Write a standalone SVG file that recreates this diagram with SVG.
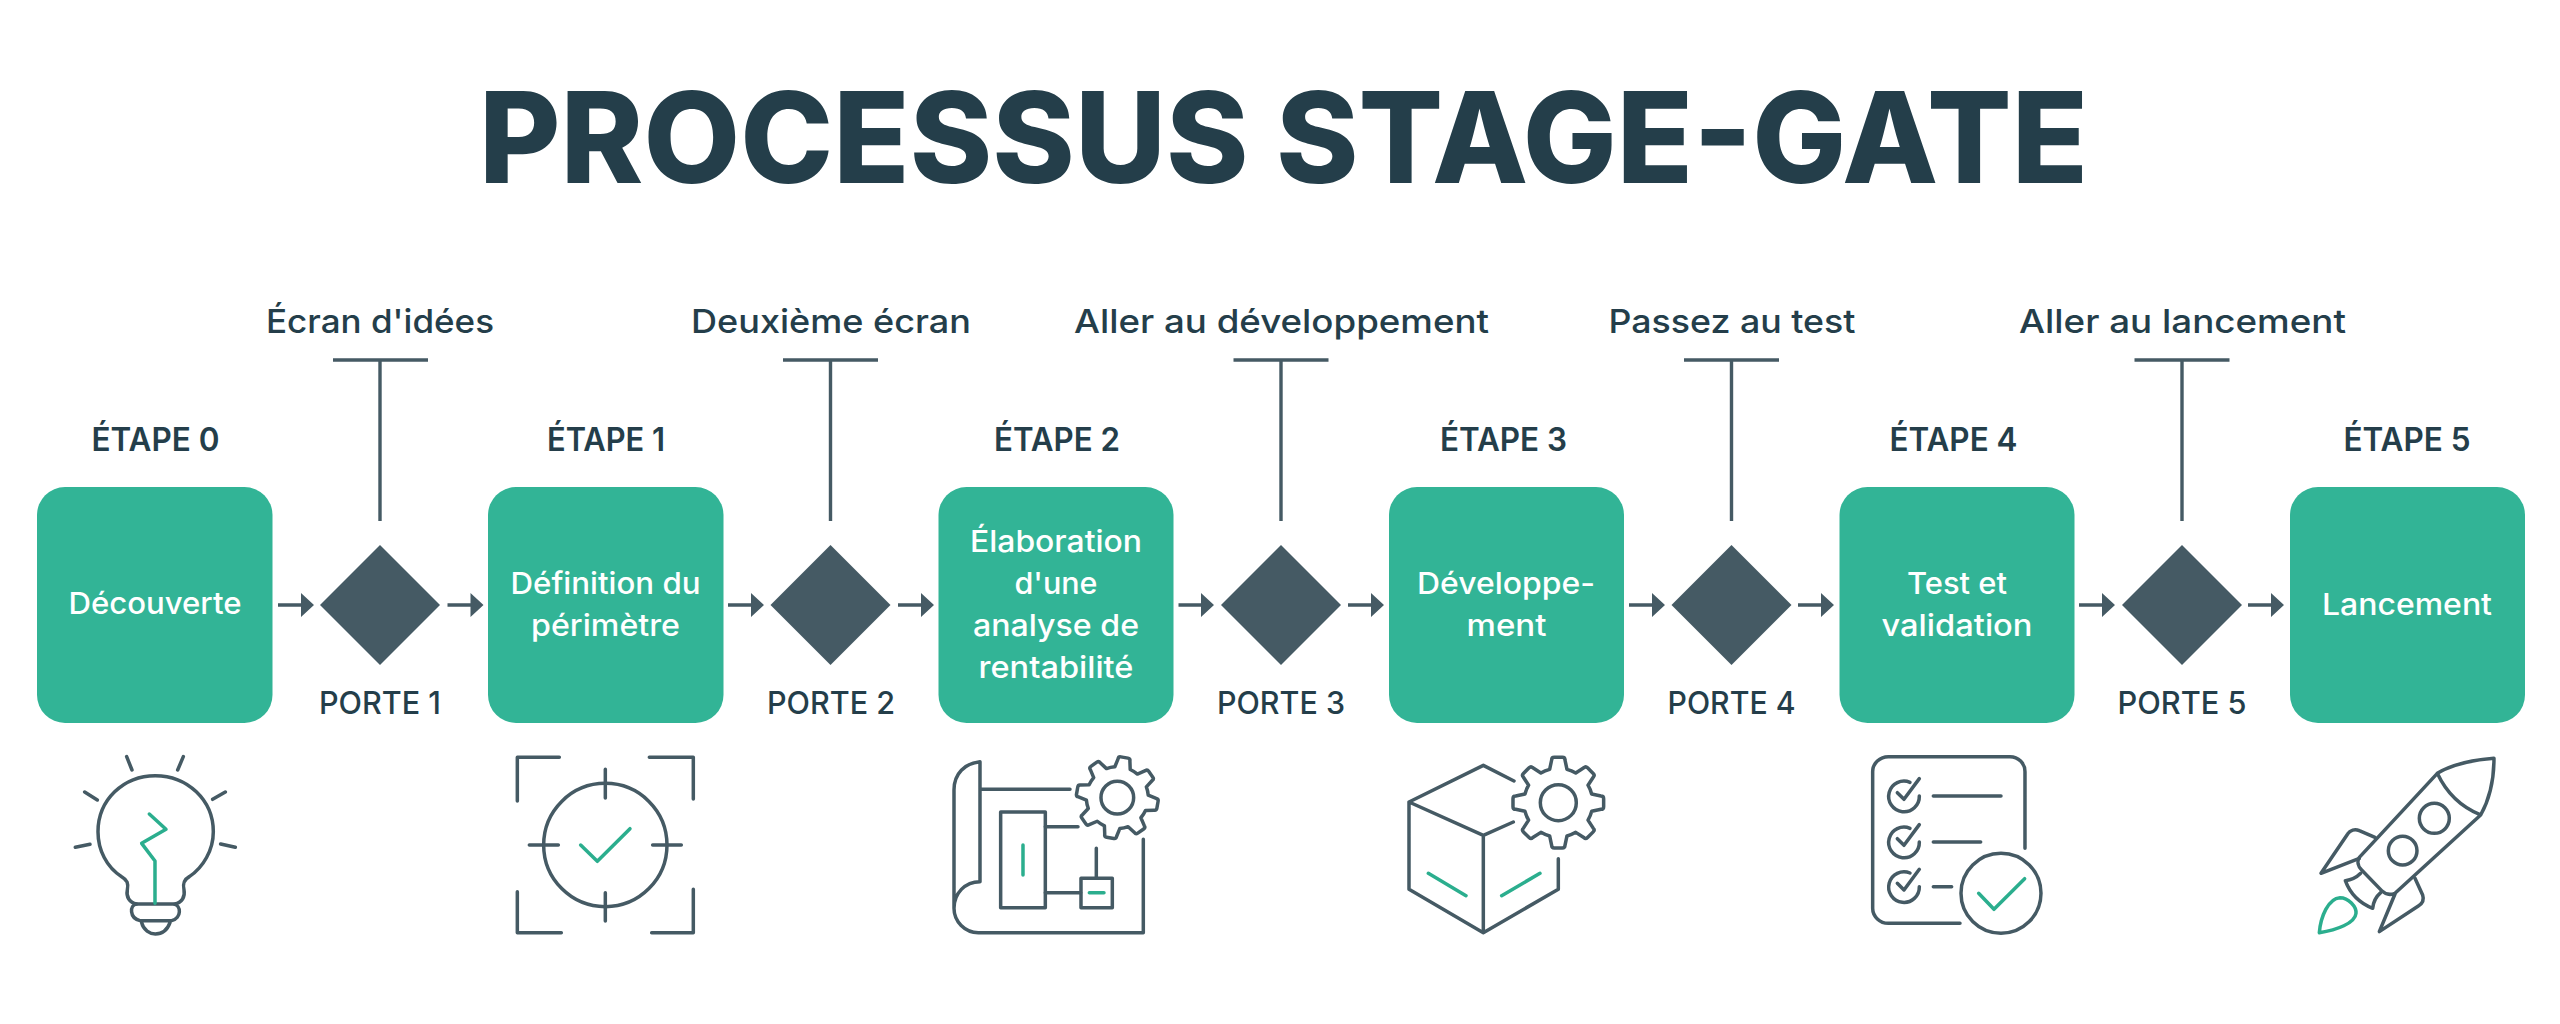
<svg xmlns="http://www.w3.org/2000/svg" xmlns:xlink="http://www.w3.org/1999/xlink" width="2560" height="1024" viewBox="0 0 2560 1024">
<style>
text{font-family:"Inter","Noto Sans","Liberation Sans",sans-serif;text-anchor:middle;fill:#243E4A}
.title{font-size:126px;font-weight:800}
.top{font-size:33px;font-weight:450}
.stage{font-size:32px;font-weight:600}
.gate{font-size:31px;font-weight:500}
.in{font-size:30px;font-weight:450;fill:#fff}
.box{fill:#32B496}
.dia{fill:#455A64}
.conn{stroke:#455A64;stroke-width:3.4;fill:none}
.head{fill:#455A64}
.ic{fill:none;stroke:#455A64;stroke-width:10.5;stroke-linecap:round;stroke-linejoin:round}
.gr{fill:none;stroke:#2BAE8E;stroke-width:10.5;stroke-linecap:round;stroke-linejoin:round}
</style>
<defs>
<path id="gear" d="M100,-26L128,-20Q136,-20 136,-12L136,12Q136,20 128,20L100,26A103,103 0 0 1 89.1,52.3L104.7,76.4Q110.3,82 104.7,87.7L87.7,104.7Q82,110.3 76.4,104.7L52.3,89.1A103,103 0 0 1 26,100L20,128Q20,136 12,136L-12,136Q-20,136 -20,128L-26,100A103,103 0 0 1 -52.3,89.1L-76.4,104.7Q-82,110.3 -87.7,104.7L-104.7,87.7Q-110.3,82 -104.7,76.4L-89.1,52.3A103,103 0 0 1 -100,26L-128,20Q-136,20 -136,12L-136,-12Q-136,-20 -128,-20L-100,-26A103,103 0 0 1 -89.1,-52.3L-104.7,-76.4Q-110.3,-82 -104.7,-87.7L-87.7,-104.7Q-82,-110.3 -76.4,-104.7L-52.3,-89.1A103,103 0 0 1 -26,-100L-20,-128Q-20,-136 -12,-136L12,-136Q20,-136 20,-128L26,-100A103,103 0 0 1 52.3,-89.1L76.4,-104.7Q82,-110.3 87.7,-104.7L104.7,-87.7Q110.3,-82 104.7,-76.4L89.1,-52.3A103,103 0 0 1 100,-26Z"/>
<g id="chk"><path d="M180,157A46,46 0 1 0 208,198"/><path d="M142,188L162,208L208,146"/></g>
</defs>
<rect width="2560" height="1024" fill="#fff"/>
<text class="title" x="1283.500" y="183" textLength="1609" lengthAdjust="spacingAndGlyphs">PROCESSUS STAGE-GATE</text>

<g id="connectors">
<path class="conn" d="M278,605H303M447.500,605H473M728,605H753M898,605H923M1178.500,605H1204M1348,605H1373M1629,605H1654M1798,605H1823M2079,605H2104M2248,605H2273"/>
<path class="head" d="M301,593L314,605L301,617ZM470.500,593L483.500,605L470.500,617ZM751,593L764,605L751,617ZM921,593L934,605L921,617ZM1201,593L1214,605L1201,617ZM1371,593L1384,605L1371,617ZM1652,593L1665,605L1652,617ZM1821,593L1834,605L1821,617ZM2102,593L2115,605L2102,617ZM2271,593L2284,605L2271,617Z"/>
<path class="conn" d="M333,360H428M380,360V521M783,360H878M830.500,360V521M1233.500,360H1328.500M1281,360V521M1684,360H1779M1731.500,360V521M2134.500,360H2229.500M2182,360V521"/>
</g>

<g id="stage0"><rect class="box" x="37" y="487" width="235.500" height="236" rx="28"/><text class="stage" x="155.500" y="451" textLength="128" lengthAdjust="spacingAndGlyphs">ÉTAPE 0</text><text class="in" x="155" y="614" textLength="173" lengthAdjust="spacingAndGlyphs">Découverte</text></g>
<g id="gate1"><path class="dia" d="M380,545L440,605L380,665L320,605Z"/><text class="top" x="380" y="333" textLength="228" lengthAdjust="spacingAndGlyphs">Écran d'idées</text><text class="gate" x="380" y="714" textLength="122" lengthAdjust="spacingAndGlyphs">PORTE 1</text></g>
<g id="stage1"><rect class="box" x="488" y="487" width="235.500" height="236" rx="28"/><text class="stage" x="606" y="451" textLength="118" lengthAdjust="spacingAndGlyphs">ÉTAPE 1</text><text class="in" x="605.500" y="594" textLength="190" lengthAdjust="spacingAndGlyphs">Définition du</text><text class="in" x="605.500" y="636" textLength="149" lengthAdjust="spacingAndGlyphs">périmètre</text></g>
<g id="gate2"><path class="dia" d="M830.500,545L890.500,605L830.500,665L770.500,605Z"/><text class="top" x="831" y="333" textLength="280" lengthAdjust="spacingAndGlyphs">Deuxième écran</text><text class="gate" x="831" y="714" textLength="128" lengthAdjust="spacingAndGlyphs">PORTE 2</text></g>
<g id="stage2"><rect class="box" x="938.500" y="487" width="235" height="236" rx="28"/><text class="stage" x="1057" y="451" textLength="126" lengthAdjust="spacingAndGlyphs">ÉTAPE 2</text><text class="in" x="1056" y="552" textLength="172" lengthAdjust="spacingAndGlyphs">Élaboration</text><text class="in" x="1056" y="594" textLength="83" lengthAdjust="spacingAndGlyphs">d'une</text><text class="in" x="1056" y="636" textLength="166" lengthAdjust="spacingAndGlyphs">analyse de</text><text class="in" x="1056" y="678" textLength="155" lengthAdjust="spacingAndGlyphs">rentabilité</text></g>
<g id="gate3"><path class="dia" d="M1281,545L1341,605L1281,665L1221,605Z"/><text class="top" x="1281.500" y="333" textLength="415" lengthAdjust="spacingAndGlyphs">Aller au développement</text><text class="gate" x="1281" y="714" textLength="128" lengthAdjust="spacingAndGlyphs">PORTE 3</text></g>
<g id="stage3"><rect class="box" x="1389" y="487" width="235" height="236" rx="28"/><text class="stage" x="1503.500" y="451" textLength="127" lengthAdjust="spacingAndGlyphs">ÉTAPE 3</text><text class="in" x="1506" y="594" textLength="178" lengthAdjust="spacingAndGlyphs">Développe-</text><text class="in" x="1506.500" y="636" textLength="80" lengthAdjust="spacingAndGlyphs">ment</text></g>
<g id="gate4"><path class="dia" d="M1731.500,545L1791.500,605L1731.500,665L1671.500,605Z"/><text class="top" x="1732" y="333" textLength="247" lengthAdjust="spacingAndGlyphs">Passez au test</text><text class="gate" x="1731.500" y="714" textLength="128" lengthAdjust="spacingAndGlyphs">PORTE 4</text></g>
<g id="stage4"><rect class="box" x="1839.500" y="487" width="235" height="236" rx="28"/><text class="stage" x="1953.500" y="451" textLength="128" lengthAdjust="spacingAndGlyphs">ÉTAPE 4</text><text class="in" x="1957" y="594" textLength="100" lengthAdjust="spacingAndGlyphs">Test et</text><text class="in" x="1957" y="636" textLength="151" lengthAdjust="spacingAndGlyphs">validation</text></g>
<g id="gate5"><path class="dia" d="M2182,545L2242,605L2182,665L2122,605Z"/><text class="top" x="2182.500" y="333" textLength="327" lengthAdjust="spacingAndGlyphs">Aller au lancement</text><text class="gate" x="2182" y="714" textLength="129" lengthAdjust="spacingAndGlyphs">PORTE 5</text></g>
<g id="stage5"><rect class="box" x="2290" y="487" width="235" height="236" rx="28"/><text class="stage" x="2407" y="451" textLength="127" lengthAdjust="spacingAndGlyphs">ÉTAPE 5</text><text class="in" x="2407" y="615" textLength="170" lengthAdjust="spacingAndGlyphs">Lancement</text></g>

<g id="icon-bulb" transform="translate(40 730) scale(.3333)">
<path class="ic" d="M290,522C268,518 258,500 262,480C266,460 262,450 245,440C200,412 174,360 174,305C174,210 250,137 346,137C442,137 520,210 520,305C520,360 490,412 448,440C430,450 428,462 432,480C436,500 426,518 404,522"/>
<path class="ic" d="M290,522H400C425,525 425,565 395,572H300C268,565 268,525 290,522ZM305,578C310,600 330,612 346,612C365,612 382,600 390,578"/>
<path class="ic" d="M260,80L276,120M430,80L413,120M134,186L172,210M556,186L518,208M106,352L150,343M586,352L542,342"/>
<path class="gr" d="M328,252L378,298L305,340L345,393V520"/>
</g>
<g id="icon-target" transform="translate(490 730) scale(.3333)">
<path class="ic" d="M82,213V82H208M478,82H610V207M82,485V608H214M485,608H610V478"/>
<circle class="ic" cx="346" cy="345" r="185"/>
<path class="ic" d="M346,118V204M346,488V573M118,345H205M488,345H574"/>
<path class="gr" d="M272,345L322,394L420,296"/>
</g>
<g id="icon-blueprint" transform="translate(930 730) scale(.3333)">
<path class="ic" d="M150,95V455C105,455 72,490 72,535C72,575 105,608 145,608H640V328M150,95C105,100 72,130 72,180V535M150,178H420"/>
<rect class="ic" x="212" y="246" width="134" height="287"/>
<path class="ic" d="M346,290H444M346,488H452M499,355V445"/>
<rect class="ic" x="453" y="445" width="94" height="88"/>
<path class="gr" d="M279,345V435M478,488H522"/>
<use href="#gear" class="ic" transform="translate(562 203) rotate(10) scale(.9)" style="stroke-width:11.600"/>
<circle class="ic" cx="562" cy="203" r="49"/>
</g>
<g id="icon-box" transform="translate(1390 730) scale(.3333)">
<path class="ic" d="M372,153L280,106L57,216V478L280,608L505,478V386M57,216L280,316L370,276M280,316V608"/>
<path class="gr" d="M115,430L228,497M335,497L450,430"/>
<use href="#gear" class="ic" transform="translate(505 218)"/>
<circle class="ic" cx="505" cy="218" r="54"/>
</g>
<g id="icon-checklist" transform="translate(1850 730) scale(.3333)">
<path class="ic" d="M525,355V125C525,100 505,80 480,80H115C90,80 68,100 68,125V535C68,560 90,580 115,580H330M250,198H453M250,336H392M250,470H305"/>
<use href="#chk" class="ic"/><use href="#chk" class="ic" y="138"/><use href="#chk" class="ic" y="272"/>
<circle class="ic" cx="453" cy="490" r="120"/>
<path class="gr" d="M386,490L432,538L524,446"/>
</g>
<g id="icon-rocket" transform="translate(2300 730) scale(.3333)">
<path class="ic" d="M412,130L178,382C170,395 175,410 185,420L245,482C255,492 270,496 285,490L542,255C570,205 582,150 582,85C520,90 460,100 412,130ZM412,130C440,190 480,230 542,255"/>
<circle class="ic" cx="403" cy="265" r="45"/><circle class="ic" cx="308" cy="362" r="43"/>
<path class="ic" d="M225,322L178,302C165,296 150,300 143,312L63,430L178,385M345,445L368,495C373,510 368,520 355,528L238,605L285,492M182,430C170,442 155,450 136,452C150,490 180,520 218,535C220,515 228,500 242,488"/>
<path class="gr" d="M58,608C62,560 85,505 120,503C145,503 170,530 168,550C165,580 110,600 58,608Z"/>
</g>
</svg>
